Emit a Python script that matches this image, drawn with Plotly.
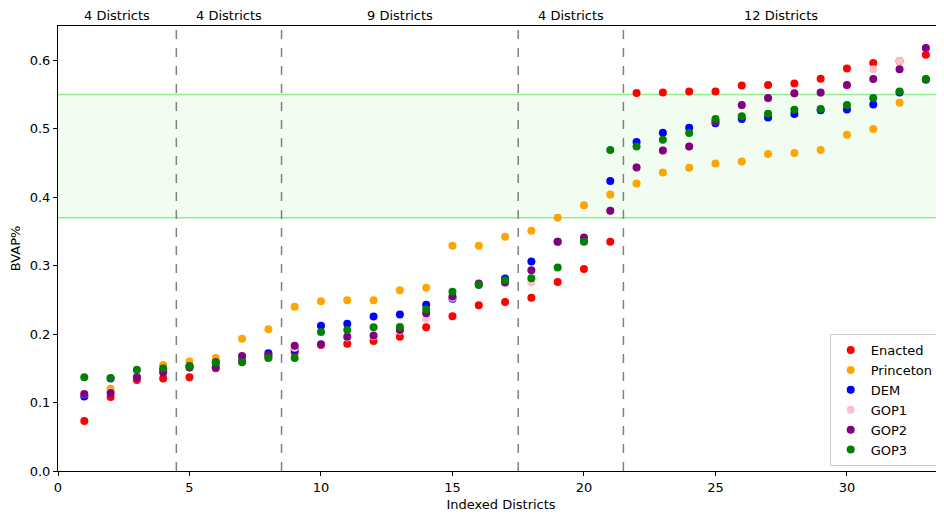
import plotly.graph_objects as go

districts = list(range(1, 34))

enacted = [0.073, 0.108, 0.133, 0.135, 0.137, 0.150, 0.160, 0.166, 0.173, 0.184,
           0.186, 0.190, 0.196, 0.210, 0.226, 0.242, 0.247, 0.253, 0.276, 0.295,
           0.335, 0.552, 0.553, 0.5545, 0.5545, 0.563, 0.564, 0.566, 0.573, 0.588,
           0.596, 0.599, 0.608]
princeton = [0.110, 0.120, 0.138, 0.155, 0.160, 0.165, 0.193, 0.207, 0.240, 0.248,
             0.2495, 0.2495, 0.264, 0.2675, 0.329, 0.329, 0.342, 0.351, 0.370, 0.388,
             0.404, 0.420, 0.436, 0.443, 0.449, 0.452, 0.463, 0.4645, 0.469, 0.491,
             0.4995, 0.538, 0.571]
dem = [0.109, 0.135, 0.137, 0.147, 0.153, 0.159, 0.165, 0.172, 0.177, 0.212,
       0.215, 0.2255, 0.2285, 0.243, 0.2515, 0.272, 0.281, 0.306, 0.335, 0.337,
       0.4235, 0.4805, 0.494, 0.5015, 0.508, 0.514, 0.5165, 0.5215, 0.527, 0.528,
       0.5355, 0.553, 0.572]
gop1 = [0.112, 0.115, 0.136, 0.145, 0.151, 0.152, 0.167, 0.168, 0.180, 0.185,
        0.195, 0.197, 0.205, 0.222, 0.253, 0.273, 0.275, 0.2753, 0.334, 0.340,
        0.380, 0.444, 0.468, 0.474, 0.511, 0.534, 0.544, 0.551, 0.552, 0.563,
        0.587, 0.599, 0.618]
gop2 = [0.1126, 0.114, 0.136, 0.144, 0.151, 0.151, 0.168, 0.169, 0.183, 0.185,
        0.196, 0.198, 0.206, 0.2305, 0.255, 0.274, 0.2753, 0.2934, 0.335, 0.341,
        0.380, 0.4434, 0.4683, 0.4741, 0.511, 0.5346, 0.5448, 0.5516, 0.553, 0.564,
        0.5726, 0.5867, 0.618]
gop3 = [0.137, 0.136, 0.148, 0.150, 0.153, 0.158, 0.159, 0.165, 0.165, 0.203,
        0.206, 0.210, 0.2105, 0.236, 0.2617, 0.272, 0.2788, 0.2817, 0.2973, 0.335,
        0.4688, 0.4741, 0.4839, 0.4937, 0.5142, 0.518, 0.522, 0.5278, 0.5288, 0.5346,
        0.5448, 0.5545, 0.5726]

series = [("Enacted", enacted, "red"), ("Princeton", princeton, "orange"),
          ("DEM", dem, "blue"), ("GOP1", gop1, "pink"),
          ("GOP2", gop2, "purple"), ("GOP3", gop3, "green")]

boundaries = [4.5, 8.5, 17.5, 21.5]
group_edges = [0, 4.5, 8.5, 17.5, 21.5, 33.5]
group_labels = ["4 Districts", "4 Districts", "9 Districts", "4 Districts", "12 Districts"]
band = (0.37, 0.55)

fig = go.Figure()
for name, vals, color in series:
    fig.add_trace(go.Scatter(x=districts, y=vals, mode="markers", name=name,
                             marker=dict(color=color, size=8, line=dict(width=0))))

fig.add_shape(type="rect", xref="paper", yref="y", x0=0, x1=1, y0=band[0], y1=band[1],
              fillcolor="rgba(144,238,144,0.13)", line=dict(width=0), layer="below")
for yv in band:
    fig.add_shape(type="line", xref="paper", yref="y", x0=0, x1=1, y0=yv, y1=yv,
                  line=dict(color="#90ee90", width=1.5), layer="below")
for b in boundaries:
    fig.add_shape(type="line", xref="x", yref="paper", x0=b, x1=b, y0=0, y1=1,
                  line=dict(color="gray", width=1.5, dash="dash"))
for i, lab in enumerate(group_labels):
    fig.add_annotation(x=(group_edges[i] + group_edges[i + 1]) / 2, y=1, xref="x", yref="paper",
                       yanchor="bottom", text=lab, showarrow=False, yshift=1,
                       font=dict(size=13, color="black"))

fig.update_layout(
    width=936, height=508,
    margin=dict(l=50, r=0, t=18, b=45),
    paper_bgcolor="white", plot_bgcolor="white",
    font=dict(family="DejaVu Sans", size=13, color="black"),
    showlegend=True,
    legend=dict(x=0.871, y=0.011, xanchor="left", yanchor="bottom",
                bgcolor="rgba(255,255,255,0.8)", bordercolor="#cccccc", borderwidth=1,
                font=dict(size=13)),
)
fig.update_xaxes(range=[0, 33.69], tickvals=[0, 5, 10, 15, 20, 25, 30],
                 showline=True, linecolor="black", linewidth=1, mirror=True,
                 ticks="outside", ticklen=4, tickcolor="black", showgrid=False, zeroline=False,
                 title=dict(text="Indexed Districts", standoff=6, font=dict(size=13)))
fig.update_yaxes(range=[0, 0.65], tickvals=[0, 0.1, 0.2, 0.3, 0.4, 0.5, 0.6], tickformat=".1f",
                 showline=True, linecolor="black", linewidth=1, mirror=True,
                 ticks="outside", ticklen=4, tickcolor="black", showgrid=False, zeroline=False,
                 title=dict(text="BVAP%", standoff=8, font=dict(size=13)))

fig.write_html("out.html")
